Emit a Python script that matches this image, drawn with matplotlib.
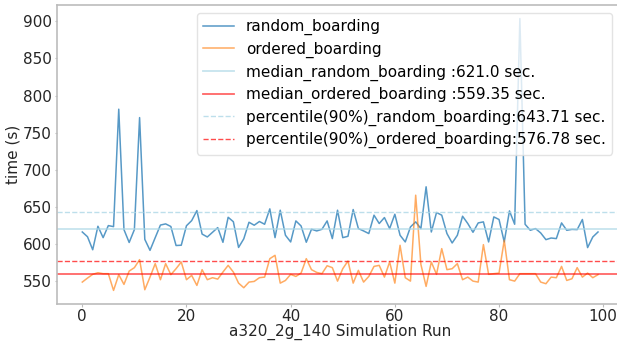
import numpy as np
import matplotlib
matplotlib.use("Agg")
import matplotlib.pyplot as plt

# simulation runs 0..99
runs = list(range(100))

random_boarding = [
    616.4, 610.0, 592.5, 624.1, 608.8, 625.0, 623.6, 781.6, 619.6, 602.3,
    619.6, 770.3, 606.5, 591.7, 608.8, 625.7, 627.3, 623.8, 598.2, 598.6,
    624.8, 631.7, 645.2, 613.6, 609.7, 616.0, 622.3, 602.5, 636.2, 630.2,
    595.6, 607.2, 629.5, 625.5, 630.5, 626.8, 647.5, 608.8, 645.7, 612.0,
    603.0, 631.3, 624.5, 602.6, 620.1, 617.8, 620.0, 631.3, 607.5, 645.7,
    608.8, 610.6, 646.6, 621.0, 617.8, 614.3, 639.0, 627.8, 635.8, 621.0,
    640.3, 612.0, 603.0, 623.2, 630.0, 621.0, 677.2, 616.4, 642.6, 639.0,
    614.3, 601.6, 612.0, 637.6, 627.8, 616.0, 628.6, 630.0, 603.0, 636.7,
    633.2, 603.0, 644.8, 626.8, 903.5, 626.8, 618.7, 621.0, 615.1, 606.1,
    608.3, 607.5, 628.6, 618.7, 619.9, 619.6, 633.2, 595.4, 609.7, 616.4,
]

ordered_boarding = [
    549.0, 554.4, 559.4, 561.6, 560.3, 560.3, 537.8, 559.0, 545.9, 563.8,
    568.4, 579.2, 538.7, 555.7, 573.8, 552.2, 573.8, 559.0, 567.0, 576.0,
    552.2, 558.0, 544.5, 565.7, 552.2, 554.9, 553.0, 562.5, 571.5, 562.5,
    547.6, 541.4, 549.0, 549.9, 554.9, 555.7, 580.5, 585.0, 547.6, 551.2,
    559.4, 556.6, 561.1, 580.5, 565.7, 562.0, 560.3, 571.0, 568.4, 550.3,
    567.0, 577.3, 547.6, 564.8, 549.0, 556.6, 570.1, 571.5, 555.7, 576.0,
    547.6, 598.5, 554.9, 550.3, 665.9, 572.8, 543.2, 576.0, 559.4, 594.0,
    565.7, 567.0, 573.8, 552.2, 555.7, 550.3, 549.0, 599.4, 559.4, 560.3,
    561.1, 605.2, 552.2, 550.3, 560.3, 560.3, 560.3, 560.3, 549.0, 546.8,
    555.7, 554.9, 570.1, 551.2, 553.5, 568.4, 555.7, 561.1, 554.9, 559.0,
]

# summary values as printed in the legend
median_random = 621.0
median_ordered = 559.35
p90_random = 643.71
p90_ordered = 576.78

plt.rcParams['font.family'] = ['DejaVu Sans']
plt.rcParams['font.size'] = 11

fig = plt.figure(figsize=(6.17, 3.43), dpi=100)
W, H = 617, 343
ax = fig.add_axes([56.5 / W, (H - 304) / H, (623.8 - 56.5) / W, (304 - 5) / H])

ax.plot(runs, random_boarding, color='#1f77b4', lw=1.1, alpha=0.75,
        label='random_boarding')
ax.plot(runs, ordered_boarding, color='#ff7f0e', lw=1.1, alpha=0.65,
        label='ordered_boarding')
ax.axhline(median_random, color='lightblue', lw=1.3, alpha=0.7,
           label=f'median_random_boarding :{median_random} sec.')
ax.axhline(median_ordered, color='red', lw=1.3, alpha=0.6,
           label=f'median_ordered_boarding :{median_ordered} sec.')
ax.axhline(p90_random, color='lightblue', lw=1.0, ls='--', alpha=0.8,
           label=f'percentile(90%)_random_boarding:{p90_random} sec.')
ax.axhline(p90_ordered, color='red', lw=1.0, ls='--', alpha=0.7,
           label=f'percentile(90%)_ordered_boarding:{p90_ordered} sec.')

ax.set_xlabel('a320_2g_140 Simulation Run', color='#262626', labelpad=0)
ax.set_ylabel('time (s)', color='#262626', labelpad=2)
ax.set_yticks([550, 600, 650, 700, 750, 800, 850, 900])
ax.set_xticks([0, 20, 40, 60, 80, 100])

for s in ax.spines.values():
    s.set_color('#bcbcbc')
    s.set_linewidth(1.2)
ax.tick_params(colors='#bcbcbc', labelcolor='#262626', length=1.8, pad=1.5)

ax.legend(loc='upper right', bbox_to_anchor=(612 / W, 1 - 13 / H),
          bbox_transform=fig.transFigure, borderaxespad=0,
          labelspacing=0.42, framealpha=0.8, edgecolor='#dddddd')

fig.savefig('out.png', dpi=100)
